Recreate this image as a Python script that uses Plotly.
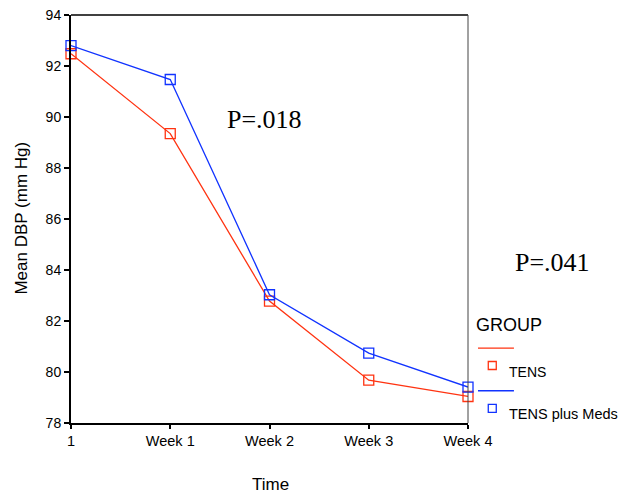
import plotly.graph_objects as go

categories = ["1", "Week 1", "Week 2", "Week 3", "Week 4"]
tens = [92.48, 89.35, 82.78, 79.68, 79.04]
tens_meds = [92.80, 91.47, 83.03, 80.74, 79.41]
y_ticks = [78, 80, 82, 84, 86, 88, 90, 92, 94]

RED = "#ff3311"
BLUE = "#1133ff"

L, R, T, B = 70.5, 468.0, 14.7, 423.3   # plot box in window pixels
W, H = 618, 494
PW, PH = R - L, B - T

def px(x):
    return (x - L) / PW

def py(y):
    return (B - y) / PH

fig = go.Figure()
xs = list(range(len(categories)))
fig.add_trace(go.Scatter(x=xs, y=tens, mode="lines+markers", name="TENS",
                         line=dict(color=RED, width=1.3),
                         marker=dict(symbol="square-open", size=10, color=RED, line=dict(width=1.3)),
                         cliponaxis=False))
fig.add_trace(go.Scatter(x=xs, y=tens_meds, mode="lines+markers", name="TENS plus Meds",
                         line=dict(color=BLUE, width=1.3),
                         marker=dict(symbol="square-open", size=10, color=BLUE, line=dict(width=1.3)),
                         cliponaxis=False))

font = "Liberation Sans, Arial, sans-serif"
serif = "Liberation Serif, Times New Roman, serif"

shapes = [
    dict(type="line", xref="paper", yref="paper", x0=0, x1=1, y0=1, y1=1, line=dict(color="black", width=1.3)),
    dict(type="line", xref="paper", yref="paper", x0=1, x1=1, y0=0, y1=1, line=dict(color="#444", width=1)),
]
# manual legend
sq = 8
for ly, color in [(348.3, RED), (391.0, BLUE)]:
    shapes.append(dict(type="line", xref="paper", yref="paper", x0=px(478), x1=px(514), y0=py(ly), y1=py(ly),
                       line=dict(color=color, width=1.3)))
for cy, color in [(365.7, RED), (408.7, BLUE)]:
    shapes.append(dict(type="rect", xref="paper", yref="paper",
                       x0=px(492.3 - sq / 2), x1=px(492.3 + sq / 2), y0=py(cy + sq / 2), y1=py(cy - sq / 2),
                       line=dict(color=color, width=1.3), fillcolor="rgba(0,0,0,0)"))

annotations = [
    dict(text="GROUP", x=px(474), y=py(325), xref="paper", yref="paper", xanchor="left", yanchor="middle",
         showarrow=False, font=dict(family=font, size=18, color="black")),
    dict(text="TENS", x=px(507), y=py(372), xref="paper", yref="paper", xanchor="left", yanchor="middle",
         showarrow=False, font=dict(family=font, size=14, color="black")),
    dict(text="TENS plus Meds", x=px(507), y=py(414), xref="paper", yref="paper", xanchor="left", yanchor="middle",
         showarrow=False, font=dict(family=font, size=14.5, color="black")),
    dict(text="P=.018", x=px(225), y=py(119), xref="paper", yref="paper", xanchor="left", yanchor="middle",
         showarrow=False, font=dict(family=serif, size=26, color="black")),
    dict(text="P=.041", x=px(513), y=py(263), xref="paper", yref="paper", xanchor="left", yanchor="middle",
         showarrow=False, font=dict(family=serif, size=26, color="black")),
    dict(text="Time", x=px(270), y=py(485), xref="paper", yref="paper", xanchor="center", yanchor="middle",
         showarrow=False, font=dict(family=font, size=17, color="black")),
    dict(text="Mean DBP (mm Hg)", x=px(20), y=py(218), xref="paper", yref="paper", xanchor="center", yanchor="middle",
         textangle=-90, showarrow=False, font=dict(family=font, size=17, color="black")),
]

fig.update_layout(
    width=W, height=H,
    margin=dict(l=L, r=W - R, t=T, b=H - B, pad=0, autoexpand=False),
    paper_bgcolor="white", plot_bgcolor="white",
    showlegend=False,
    font=dict(family=font, size=14, color="black"),
    shapes=shapes, annotations=annotations,
    xaxis=dict(range=[0, 4], tickvals=xs, ticktext=categories, showgrid=False, zeroline=False, automargin=False,
               showline=True, linecolor="black", linewidth=2, ticks="outside", ticklen=4, tickwidth=1.5,
               tickcolor="black", ticklabeloverflow="allow",
               tickfont=dict(family=font, size=14.5, color="black")),
    yaxis=dict(range=[78, 94], tickvals=y_ticks, showgrid=False, zeroline=False, automargin=False,
               showline=True, linecolor="black", linewidth=2, ticks="outside", ticklen=5, tickwidth=1.5,
               tickcolor="black", ticklabeloverflow="allow",
               tickfont=dict(family=font, size=14, color="black")),
)

fig.write_html("out.html", config={"displayModeBar": False},
               post_script="document.body.style.margin='0px';document.body.style.overflow='hidden';")
